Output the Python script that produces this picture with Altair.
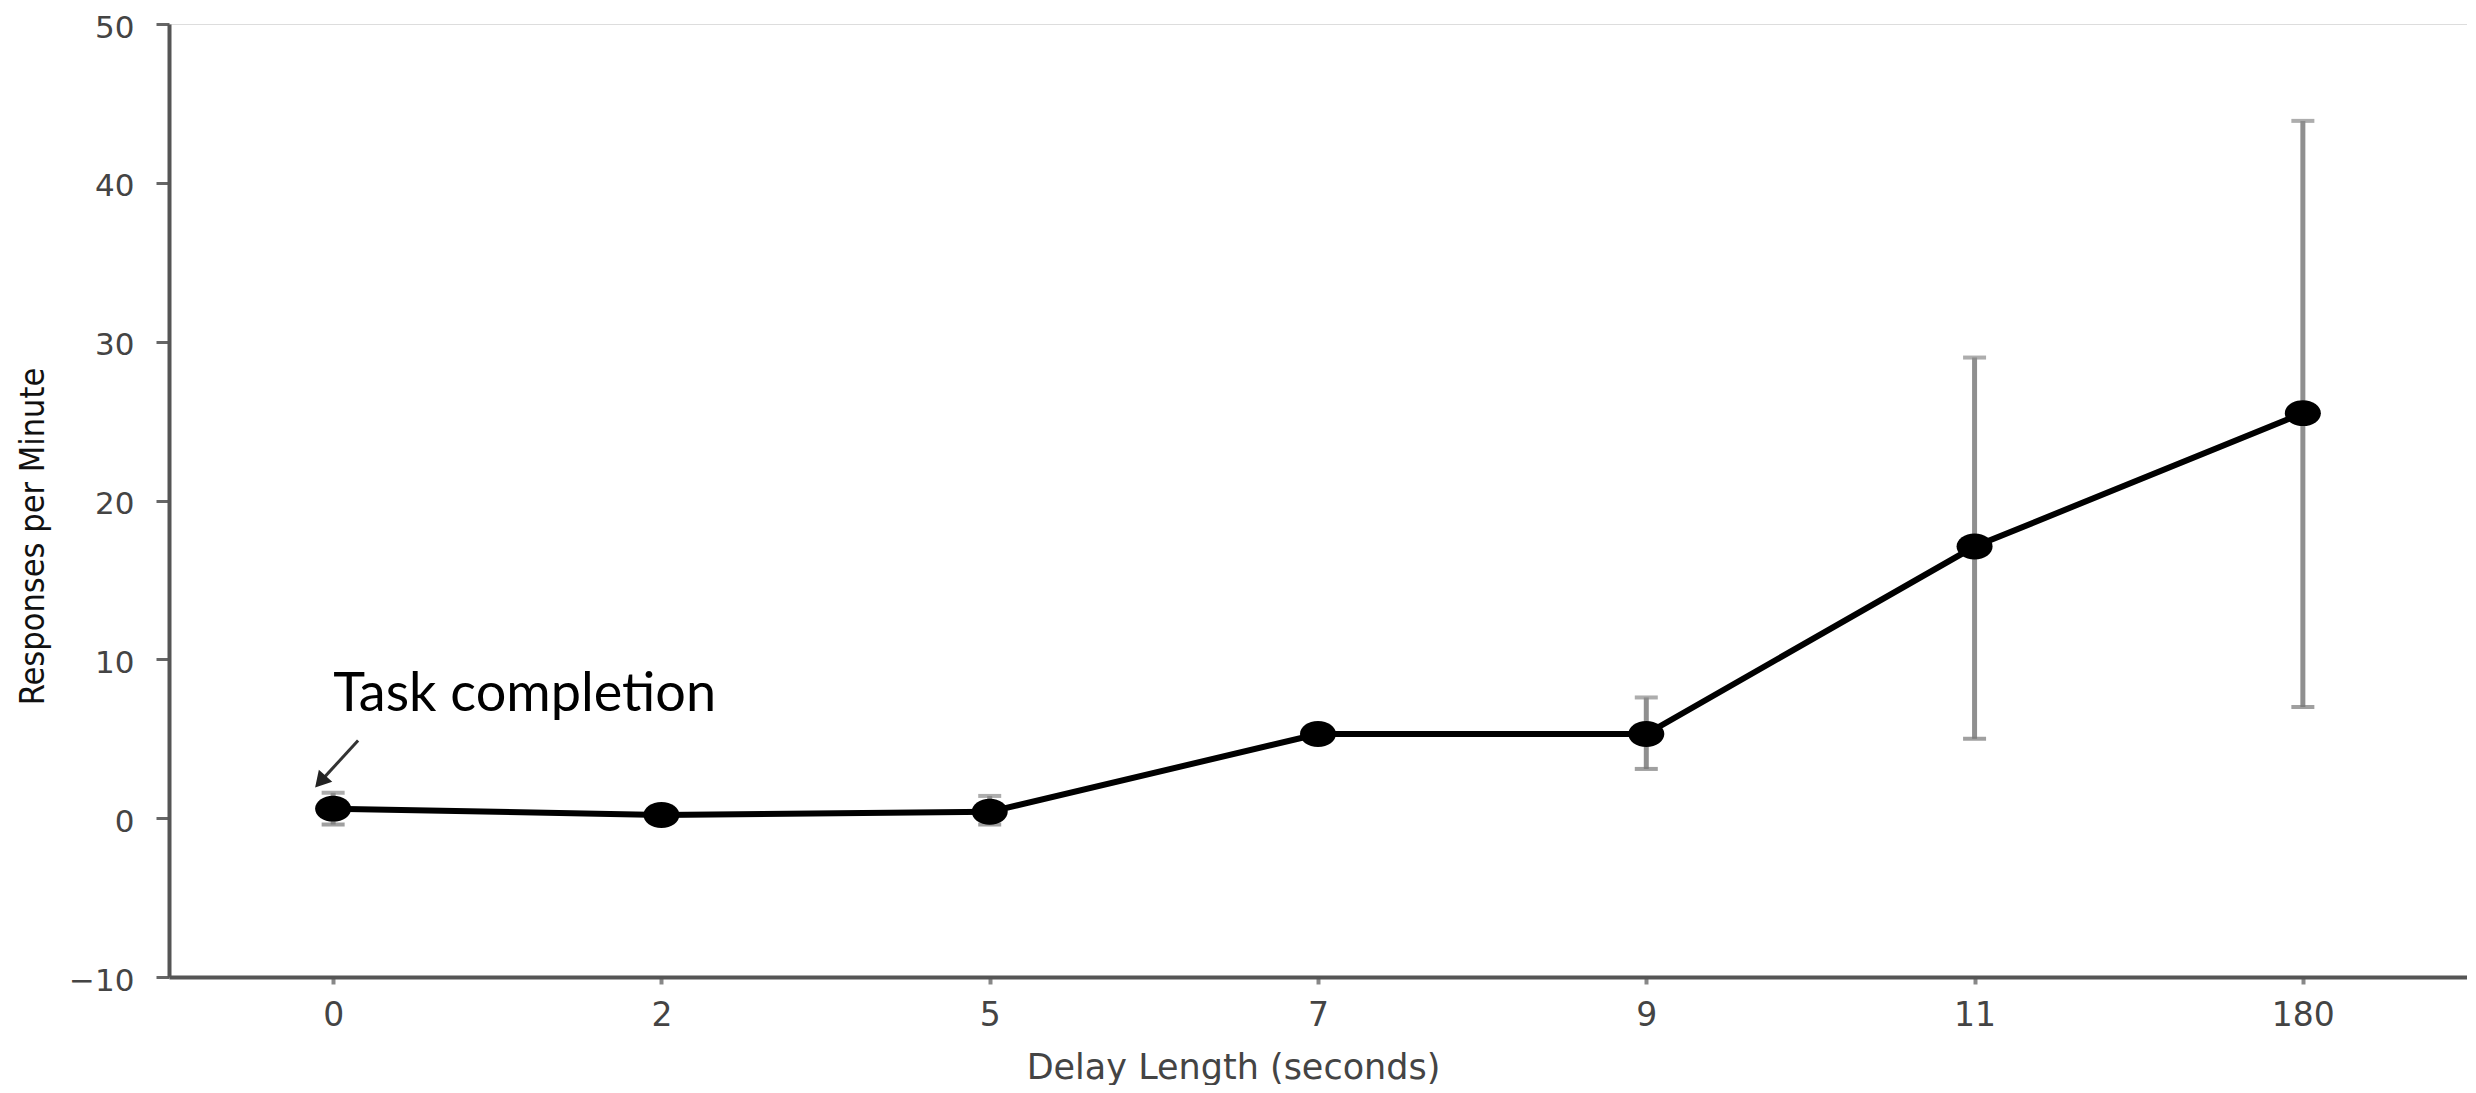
import json
import altair as alt
import pandas as pd

# ---- data ----
delay_labels = ["0", "2", "5", "7", "9", "11", "180"]
mean_rate = [0.6, 0.2, 0.4, 5.3, 5.3, 17.1, 25.5]
err_low = [-0.4, 0.0, -0.4, 5.0, 3.1, 5.0, 7.0]
err_high = [1.6, 0.4, 1.4, 5.6, 7.6, 29.0, 43.9]

y_ticks = [-10, 0, 10, 20, 30, 40, 50]

annot_text = ["Task completion"]
annot_x = [0.0]
annot_y = [6.77]
arrow_x = [0.076]
arrow_y = [4.89]
arrow_x2 = [-0.039]
arrow_y2 = [2.30]

df = pd.DataFrame({
    "idx": list(range(len(delay_labels))),
    "delay": delay_labels,
    "rate": mean_rate,
    "lo": err_low,
    "hi": err_high,
})
ann = pd.DataFrame({"x": annot_x, "y": annot_y, "text": annot_text})
arr = pd.DataFrame({"x": arrow_x, "y": arrow_y, "x2": arrow_x2, "y2": arrow_y2})

label_expr = json.dumps(delay_labels) + "[datum.value]"

x_scale = alt.Scale(domain=[-0.5, len(delay_labels) - 0.5], nice=False, zero=False)
y_scale = alt.Scale(domain=[-10, 50], nice=False, zero=False)

x_axis = alt.Axis(
    values=list(range(len(delay_labels))),
    labelExpr=label_expr,
    title="Delay Length (seconds)",
    grid=False,
    domainColor="#555555", domainWidth=4,
    tickColor="#888888", tickWidth=4, tickSize=7,
    labelFont="DejaVu Sans", labelFontSize=33, labelColor="#444444", labelPadding=15,
    titleFont="DejaVu Sans", titleFontSize=35, titleFontWeight="normal", titleColor="#444444",
    titleX=1064, titleY=90, titleBaseline="middle", titleAlign="center",
)
y_axis = alt.Axis(
    values=y_ticks,
    title="Responses per Minute",
    grid=False,
    domainColor="#555555", domainWidth=4,
    tickColor="#666666", tickWidth=3, tickSize=13,
    labelFont="DejaVu Sans", labelFontSize=31, labelColor="#444444", labelPadding=22,
    labelOffset=4,
    titleFont="DejaVu Sans Condensed", titleFontSize=34, titleFontWeight="normal", titleColor="#111111",
    titleX=-136, titleY=512, titleBaseline="middle", titleAlign="center",
)

base = alt.Chart(df)
X = alt.X("idx:Q", scale=x_scale, axis=x_axis)
Y = alt.Y("rate:Q", scale=y_scale, axis=y_axis)

err_rule = base.mark_rule(color="#8f8f8f", strokeWidth=5).encode(
    x=alt.X("idx:Q", scale=x_scale, axis=x_axis),
    y=alt.Y("lo:Q", scale=y_scale, axis=y_axis),
    y2="hi:Q",
)
cap_lo = base.mark_tick(color="#777777", orient="horizontal", size=23, thickness=4).encode(
    x=alt.X("idx:Q", scale=x_scale), y=alt.Y("lo:Q", scale=y_scale)
)
cap_hi = base.mark_tick(color="#8a8a8a", orient="horizontal", size=23, thickness=4).encode(
    x=alt.X("idx:Q", scale=x_scale), y=alt.Y("hi:Q", scale=y_scale)
)
line = base.mark_line(color="black", strokeWidth=6).encode(x=X, y=Y)
ellipse = "M -1 0 A 1 0.72 0 1 0 1 0 A 1 0.72 0 1 0 -1 0 Z"
points = base.mark_point(shape=ellipse, size=1300, filled=True, color="black", opacity=1).encode(x=X, y=Y)

arrow_line = alt.Chart(arr).mark_rule(color="#333333", strokeWidth=3).encode(
    x=alt.X("x:Q", scale=x_scale), y=alt.Y("y:Q", scale=y_scale), x2="x2:Q", y2="y2:Q"
)
arrow_head = alt.Chart(arr).mark_point(shape="triangle-up", angle=222, size=324, filled=True,
                                       color="#222222", opacity=1).encode(
    x=alt.X("x2:Q", scale=x_scale), y=alt.Y("y2:Q", scale=y_scale)
)
label = alt.Chart(ann).mark_text(font="Lato", fontSize=54, color="black", align="left",
                                 baseline="alphabetic").encode(
    x=alt.X("x:Q", scale=x_scale), y=alt.Y("y:Q", scale=y_scale), text="text:N"
)

chart = alt.layer(err_rule, cap_lo, cap_hi, line, points, arrow_line, arrow_head, label).properties(
    width=2298, height=953,
    padding={"left": 161, "top": 16, "right": 0, "bottom": 108},
    autosize=alt.AutoSizeParams(type="none"),
).configure_view(stroke=None).configure(background="white")

chart.save("out.html", embed_options={"renderer": "svg", "actions": False})
